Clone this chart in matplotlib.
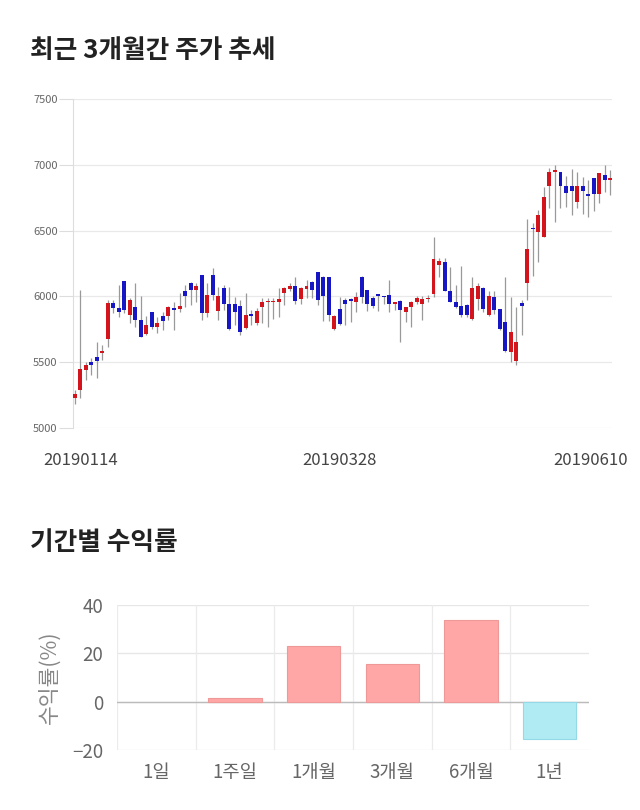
import numpy as np
import matplotlib.pyplot as plt
from matplotlib.transforms import ScaledTranslation

plt.rcParams['font.family'] = ['Noto Sans CJK KR', 'DejaVu Sans']

# daily candles, 2019-01-14 .. 2019-06-10
opens = [5230, 5290, 5440, 5503, 5540, 5572, 5680, 5947, 5910, 6120,
         5858, 5922, 5820, 5715, 5880, 5770, 5850, 5853, 5910, 5905,
         6040, 6100, 6048, 6162, 5871, 6162, 5889, 6067, 5940, 5940,
         5927, 5757, 5865, 5795, 5922, 5957, 5960, 5960, 6028, 6056,
         6079, 5977, 6056, 6112, 6183, 6150, 6145, 5752, 5902, 5972,
         5977, 5960, 6150, 6048, 5985, 6018, 6003, 6010, 5942, 5967,
         5884, 5917, 5960, 5942, 5980, 6018, 6238, 6259, 6043, 5960,
         5927, 5934, 5826, 5977, 6067, 5858, 5997, 5902, 5808, 5580,
         5509, 5947, 6100, 6522, 6492, 6454, 6841, 6948, 6943, 6841,
         6841, 6715, 6841, 6776, 6897, 6776, 6922, 6890]
highs = [5290, 6050, 5505, 5530, 5655, 5630, 5970, 5972, 6085, 6120,
         5987, 6100, 6000, 5850, 5880, 5845, 5884, 5925, 5960, 6025,
         6086, 6112, 6100, 6165, 6100, 6215, 6073, 6086, 6073, 5997,
         5972, 6028, 5900, 5914, 5985, 5990, 5985, 6065, 6075, 6100,
         6150, 6075, 6125, 6115, 6185, 6155, 6148, 5860, 5997, 5985,
         5985, 6035, 6152, 6050, 6000, 6020, 6005, 6125, 5960, 5970,
         5920, 5965, 6000, 6000, 6010, 6455, 6290, 6290, 6226, 6086,
         6231, 5940, 6150, 6104, 6070, 6043, 6043, 5905, 6150, 5997,
         5922, 5972, 6588, 6555, 6656, 6833, 6973, 6998, 6945, 6918,
         6968, 6943, 6910, 6884, 6900, 6940, 6998, 6960]
lows = [5180, 5225, 5365, 5400, 5380, 5518, 5615, 5874, 5845, 5875,
        5798, 5770, 5690, 5710, 5750, 5724, 5745, 5820, 5745, 5884,
        5922, 5934, 5960, 5820, 5845, 5972, 5820, 5896, 5745, 5782,
        5706, 5752, 5780, 5782, 5795, 5770, 5830, 5845, 5934, 6040,
        5940, 5940, 5985, 5985, 5934, 5810, 5810, 5745, 5782, 5782,
        5805, 5884, 5950, 5890, 5910, 5890, 5940, 5884, 5900, 5656,
        5808, 5770, 5940, 5820, 5960, 5997, 6150, 6040, 5955, 5910,
        5845, 5845, 5820, 5900, 5880, 5850, 5870, 5745, 5580, 5503,
        5478, 5706, 5972, 6157, 6259, 6450, 6674, 6567, 6674, 6682,
        6618, 6674, 6624, 6606, 6650, 6710, 6796, 6770]
closes = [5255, 5445, 5480, 5478, 5510, 5588, 5947, 5910, 5885, 5900,
          5972, 5820, 5695, 5782, 5770, 5800, 5815, 5917, 5897, 5930,
          6005, 6048, 6080, 5871, 6010, 6010, 6003, 5940, 5751, 5880,
          5732, 5858, 5853, 5889, 5960, 5963, 5963, 5980, 6061, 6079,
          5967, 6061, 6079, 6048, 5972, 6000, 5858, 5850, 5788, 5942,
          5967, 5997, 5997, 5942, 5927, 6005, 5998, 5942, 5955, 5896,
          5917, 5960, 5985, 5980, 5990, 6282, 6267, 6043, 5960, 5917,
          5858, 5858, 6067, 6079, 5902, 6003, 5896, 5750, 5587, 5732,
          5656, 5929, 6360, 6510, 6618, 6758, 6948, 6960, 6841, 6788,
          6803, 6841, 6803, 6765, 6776, 6935, 6884, 6897]
date_labels = ['20190114', '20190328', '20190610']
date_idx = [0, 48, 97]
price_ticks = [5000, 5500, 6000, 6500, 7000, 7500]

periods = ['1일', '1주일', '1개월', '3개월', '6개월', '1년']
returns = [0.0, 1.6, 23.2, 15.6, 33.7, -15.3]

fig = plt.figure(figsize=(6.4, 8.1), dpi=100)

# --- candle chart ---
ax = fig.add_axes([0.114, 0.4716, 0.842, 0.4062])
o = np.array(opens, float)
c = np.array(closes, float)
x = np.arange(len(o))
up = c >= o
cols = np.where(up, '#d4141c', '#1616c4')
h = np.maximum(np.abs(c - o), 12)
ax.vlines(x, lows, highs, color='#999999', lw=0.9, zorder=2)
ax.bar(x, h, bottom=(o + c) / 2 - h / 2, width=0.72, color=cols, zorder=3)

ax.set_xlim(-0.3, 97.3)
ax.set_ylim(5000, 7500)
ax.set_yticks(price_ticks)
ax.yaxis.grid(True, color='#e9e9e9', lw=0.9)
ax.set_axisbelow(True)
ax.tick_params(axis='y', length=10, color='#dddddd', labelsize=8, labelcolor='#666666', pad=1)
ax.set_xticks(date_idx, date_labels)
ax.tick_params(axis='x', length=0, labelsize=12, labelcolor='#444444', pad=17)
for sp in ['top', 'right', 'bottom']:
    ax.spines[sp].set_visible(False)
ax.spines['left'].set_color('#dddddd')
shifts = [4, 0, -14]
for lab, dx in zip(ax.get_xticklabels(), shifts):
    lab.set_transform(lab.get_transform() + ScaledTranslation(dx / 72, 0, fig.dpi_scale_trans))

fig.text(0.047, 1 - 50 / 810, '최근 3개월간 주가 추세', fontsize=18.5, fontweight='bold',
         color='#222222', va='center')
fig.text(0.047, 1 - 543 / 810, '기간별 수익률', fontsize=18.5, fontweight='bold',
         color='#222222', va='center')

# --- returns chart ---
ax2 = fig.add_axes([0.1828, 0.0741, 0.7375, 0.1790])
bar_cols = ['#ffa6a6' if r >= 0 else '#b0ebf3' for r in returns]
edge_cols = ['none' if r == 0 else ('#ee9898' if r > 0 else '#93d9e6') for r in returns]
ax2.bar(range(len(periods)), returns, width=0.68, color=bar_cols,
        edgecolor=edge_cols, lw=0.8, zorder=3)
ax2.set_xlim(-0.5, len(periods) - 0.5)
ax2.set_ylim(-20, 40)
ax2.set_yticks([-20, 0, 20, 40])
ax2.yaxis.grid(True, color='#e6e6e6', lw=0.9)
for k in range(len(periods)):
    ax2.axvline(k - 0.5, color='#ebebeb', lw=0.9, zorder=1)
ax2.axhline(0, color='#bbbbbb', lw=1, zorder=2)
ax2.set_axisbelow(True)
for sp in ax2.spines.values():
    sp.set_visible(False)
ax2.set_xticks(range(len(periods)), periods)
ax2.tick_params(axis='x', length=0, labelsize=13.5, labelcolor='#666666', pad=9)
ax2.tick_params(axis='y', length=0, labelsize=13.5, labelcolor='#666666', pad=10)
ax2.set_ylabel('수익률(%)', fontsize=15.5, color='#888888', labelpad=8)

fig.savefig('out.png', dpi=100)
